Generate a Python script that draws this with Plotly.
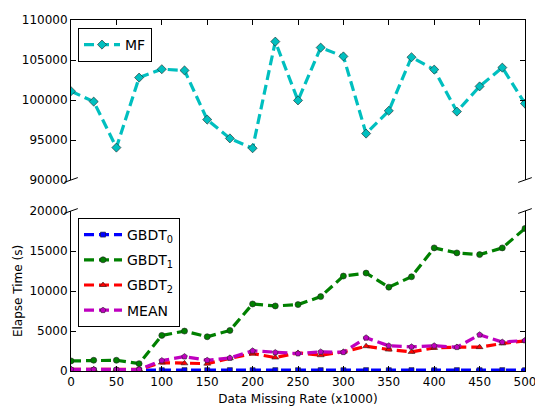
import plotly.graph_objects as go

x_rate = [0, 25, 50, 75, 100, 125, 150, 175, 200, 225, 250, 275, 300, 325, 350, 375, 400, 425, 450, 475, 500]

mf = [101100, 99800, 94050, 102800, 103850, 103700, 97550, 95200, 93970, 107300, 99950,
      106550, 105450, 95800, 98650, 105350, 103800, 98550, 101700, 104050, 99550]
gbdt0 = [100, 110, 100, 110, 100, 110, 100, 110, 100, 110, 100,
         110, 100, 110, 100, 110, 100, 110, 100, 110, 100]
gbdt1 = [1260, 1340, 1340, 920, 4450, 4990, 4280, 5070, 8380, 8130, 8300,
         9300, 11870, 12240, 10480, 11780, 15390, 14760, 14550, 15390, 17820]
gbdt2 = [210, 210, 210, 210, 1050, 960, 920, 1590, 2180, 1680, 2260,
         1970, 2390, 3100, 2680, 2390, 2890, 2980, 2980, 3440, 3770]
mean = [210, 180, 180, 180, 1300, 1800, 1340, 1630, 2520, 2310, 2180,
        2390, 2350, 4150, 3150, 3020, 3150, 2980, 4530, 3610, 3820]

top_range = [90000, 110000]
bottom_range = [0, 20000]
top_ticks = [90000, 95000, 100000, 105000, 110000]
bottom_ticks = [0, 5000, 10000, 15000, 20000]
x_ticks = [0, 50, 100, 150, 200, 250, 300, 350, 400, 450, 500]

FONT = "DejaVu Sans"
DASH = "10px,5px"

fig = go.Figure()

def add(y, name, color, symbol, xa, ya, legend, group, size=6):
    fig.add_trace(go.Scatter(
        x=x_rate, y=y, name=name, mode="lines+markers",
        xaxis=xa, yaxis=ya, legend=legend, legendgroup=group,
        line=dict(color=color, width=3.2, dash=DASH),
        marker=dict(symbol=symbol, size=size, color=color,
                    line=dict(color="#222222", width=0.6)),
    ))

add(mf, "MF", "#00BFBF", "diamond", "x2", "y2", "legend", "mf", 7)
add(gbdt0, "GBDT<sub>0</sub>", "#0000FF", "square", "x", "y", "legend2", "g0", 5)
add(gbdt1, "GBDT<sub>1</sub>", "#008000", "circle", "x", "y", "legend2", "g1", 6)
add(gbdt2, "GBDT<sub>2</sub>", "#FF0000", "triangle-up", "x", "y", "legend2", "g2", 6)
add(mean, "MEAN", "#BF00BF", "pentagon", "x", "y", "legend2", "mn", 6)

axis_common = dict(showgrid=False, zeroline=False, linecolor="black", linewidth=1,
                   ticks="inside", ticklen=5, tickcolor="black", showline=True,
                   tickformat="d", ticklabeloverflow="allow", automargin=False,
                   tickfont=dict(family=FONT, size=12, color="black"))

top_dom = [191 / 351, 1.0]
bot_dom = [0.0, 160 / 351]

fig.update_layout(
    width=535, height=406,
    margin=dict(l=71, r=10, t=20, b=35),
    paper_bgcolor="white", plot_bgcolor="white",
    font=dict(family=FONT, size=12, color="black"),
    xaxis=dict(range=[0, 500], tickvals=x_ticks, anchor="y", side="bottom",
               title=dict(text="Data Missing Rate (x1000)", standoff=7,
                          font=dict(family=FONT, size=12)),
               **axis_common),
    yaxis=dict(range=bottom_range, tickvals=bottom_ticks, domain=bot_dom, anchor="x",
               mirror="ticks",
               title=dict(text="Elapse Time (s)", standoff=4,
                          font=dict(family=FONT, size=12)),
               **axis_common),
    xaxis2=dict(range=[0, 500], tickvals=x_ticks, anchor="y2", side="top",
                showticklabels=False, **axis_common),
    yaxis2=dict(range=top_range, tickvals=top_ticks, domain=top_dom, anchor="x2",
                mirror="ticks", **axis_common),
    legend=dict(x=(78 - 71) / 454, y=(371 - 28) / 351, yanchor="top",
                xanchor="left", bordercolor="black", borderwidth=1, bgcolor="white",
                itemwidth=36,
                font=dict(family=FONT, size=14, color="black")),
    legend2=dict(x=(78 - 71) / 454, y=(371 - 218) / 351, yanchor="top", xanchor="left",
                 bordercolor="black", borderwidth=1, bgcolor="white",
                 tracegroupgap=4, itemwidth=38,
                 font=dict(family=FONT, size=14, color="black")),
    showlegend=True,
)

# broken-axis diagonal marks
d = 0.015
for xr, yr, yc in [("x2 domain", "y2 domain", 0), ("x domain", "y domain", 1)]:
    for xc in (0, 1):
        fig.add_shape(type="line", xref=xr, yref=yr,
                      x0=xc - d, x1=xc + d, y0=yc - d, y1=yc + d,
                      line=dict(color="black", width=1))

fig.write_html("out.html")
